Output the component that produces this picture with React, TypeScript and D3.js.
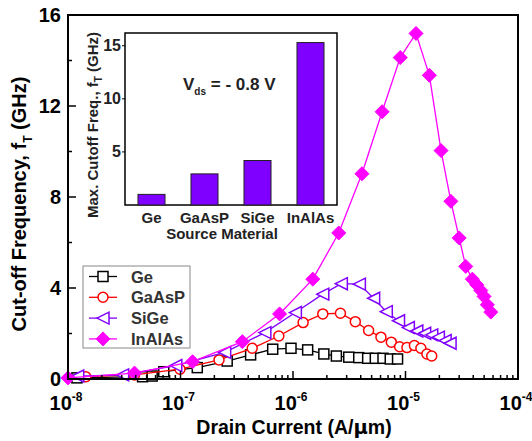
import React, { useEffect, useRef } from "react";
import * as d3 from "d3";

// main chart data: drain current (A/um) vs cut-off frequency (GHz)
const geI = [1.2e-8, 4.6e-8, 5.6e-8, 7.1e-8, 1.41e-7, 2.6e-7, 4.2e-7, 6.6e-7, 9.6e-7, 1.35e-6, 1.88e-6, 2.43e-6, 3.13e-6, 3.84e-6, 4.61e-6, 5.39e-6, 6.31e-6, 7.32e-6, 8.5e-6];
const geF = [0.05, 0.1, 0.13, 0.32, 0.5, 0.79, 1.06, 1.31, 1.35, 1.28, 1.1, 1.01, 0.96, 0.94, 0.91, 0.91, 0.91, 0.88, 0.88];

const gaasI = [1.44e-8, 3.9e-8, 9.9e-8, 2.2e-7, 4.34e-7, 7.48e-7, 1.23e-6, 1.84e-6, 2.64e-6, 3.58e-6, 4.7e-6, 6.05e-6, 7.48e-6, 8.87e-6, 1.03e-5, 1.2e-5, 1.37e-5, 1.55e-5, 1.71e-5];
const gaasF = [0.1, 0.18, 0.43, 0.84, 1.35, 1.89, 2.48, 2.86, 2.89, 2.52, 2.13, 1.84, 1.62, 1.42, 1.38, 1.47, 1.35, 1.1, 1.01];

const sigeI = [1.22e-8, 3.06e-8, 9.08e-8, 2.47e-7, 5.62e-7, 1.05e-6, 1.84e-6, 2.69e-6, 3.89e-6, 5.21e-6, 6.75e-6, 8.67e-6, 1.06e-5, 1.26e-5, 1.48e-5, 1.71e-5, 1.96e-5, 2.25e-5, 2.49e-5];
const sigeF = [0.13, 0.18, 0.59, 1.17, 2.04, 2.92, 3.73, 4.19, 4.17, 3.55, 2.96, 2.56, 2.26, 2.11, 2.01, 1.94, 1.84, 1.69, 1.57];

const inalasI = [1.0e-8, 3.9e-8, 1.28e-7, 3.55e-7, 7.6e-7, 1.5e-6, 2.55e-6, 4.1e-6, 6.2e-6, 8.98e-6, 1.24e-5, 1.63e-5, 2.07e-5, 2.53e-5, 3.0e-5, 3.43e-5, 3.93e-5, 4.3e-5, 4.67e-5, 4.99e-5, 5.34e-5, 5.73e-5];
const inalasF = [0.05, 0.26, 0.76, 1.64, 2.86, 4.39, 6.42, 9.02, 11.75, 14.13, 15.19, 13.35, 10.04, 7.81, 6.2, 4.95, 4.39, 4.14, 3.89, 3.63, 3.26, 2.94];

// inset bar data
const materials = ["Ge", "GaAsP", "SiGe", "InAlAs"];
const maxFt = [1.0, 2.93, 4.19, 15.3];

const yTicks = [0, 4, 8, 12, 16];
const insetTicks = [5, 10, 15];

const series = [
  { name: "Ge", xs: geI, ys: geF, color: "#000000", marker: "square" },
  { name: "GaAsP", xs: gaasI, ys: gaasF, color: "#ff0000", marker: "circle" },
  { name: "SiGe", xs: sigeI, ys: sigeF, color: "#7f00ff", marker: "triangle" },
  { name: "InAlAs", xs: inalasI, ys: inalasF, color: "#ff00ff", marker: "diamond" },
];

const W = 532;
const H = 441;
const FONT = "'Liberation Sans', Arial, sans-serif";

function drawMarker(g: any, type: string, cx: number, cy: number, color: string) {
  if (type === "square") {
    g.append("rect").attr("x", cx - 5).attr("y", cy - 5).attr("width", 10).attr("height", 10)
      .attr("fill", "#fff").attr("stroke", color).attr("stroke-width", 1.5);
  } else if (type === "circle") {
    g.append("circle").attr("cx", cx).attr("cy", cy).attr("r", 5)
      .attr("fill", "#fff").attr("stroke", color).attr("stroke-width", 1.5);
  } else if (type === "triangle") {
    g.append("path").attr("d", `M${cx - 6},${cy}L${cx + 6},${cy - 6}L${cx + 6},${cy + 6}Z`)
      .attr("fill", "#fff").attr("stroke", color).attr("stroke-width", 1.5);
  } else {
    g.append("path").attr("d", `M${cx},${cy - 7}L${cx + 7},${cy}L${cx},${cy + 7}L${cx - 7},${cy}Z`)
      .attr("fill", color).attr("stroke", color).attr("stroke-width", 1);
  }
}

const App = () => {
  const ref = useRef(null);

  useEffect(() => {
    if (!ref.current) return;
    const svg = d3.select(ref.current);
    svg.selectAll("*").remove();

    const x = d3.scaleLog().domain([1e-8, 1e-4]).range([68, 518]);
    const y = d3.scaleLinear().domain([0, 16]).range([379, 15]);
    const [x0, x1] = x.range();
    const [y0, y1] = y.range();

    // series lines + markers
    const plot = svg.append("g");
    series.forEach((s) => {
      const pts: [number, number][] = s.xs.map((v, i) => [x(v), y(s.ys[i])]);
      plot.append("path").attr("d", d3.line()(pts) as string)
        .attr("fill", "none").attr("stroke", s.color).attr("stroke-width", 1.3);
      pts.forEach((p) => drawMarker(plot, s.marker, p[0], p[1], s.color));
    });

    // frame
    svg.append("rect").attr("x", x0).attr("y", y1).attr("width", x1 - x0).attr("height", y0 - y1)
      .attr("fill", "none").attr("stroke", "#000").attr("stroke-width", 2);

    // x ticks (inward)
    const ax = svg.append("g");
    for (let e = -8; e <= -4; e++) {
      for (let m = 1; m <= 9; m++) {
        const v = m * Math.pow(10, e);
        if (v > 1e-4 * 1.0001) break;
        const px = x(v);
        const len = m === 1 ? 8 : 4;
        ax.append("line").attr("x1", px).attr("x2", px).attr("y1", y0).attr("y2", y0 - len)
          .attr("stroke", "#000").attr("stroke-width", 1.5);
      }
      const t = ax.append("text").attr("x", x(Math.pow(10, e)) - 2).attr("y", 410)
        .attr("text-anchor", "middle").attr("font-family", FONT).attr("font-weight", "bold")
        .attr("font-size", 20).text("10");
      t.append("tspan").attr("dy", -9).attr("font-size", 12).text(String(e));
    }

    // y ticks
    const ay = svg.append("g");
    d3.range(0, 17, 2).forEach((v) => {
      const major = v % 4 === 0;
      ay.append("line").attr("x1", x0).attr("x2", x0 + (major ? 8 : 4)).attr("y1", y(v)).attr("y2", y(v))
        .attr("stroke", "#000").attr("stroke-width", 1.5);
    });
    yTicks.forEach((v) => {
      ay.append("text").attr("x", 61).attr("y", y(v) + 7).attr("text-anchor", "end")
        .attr("font-family", FONT).attr("font-weight", "bold").attr("font-size", 20).text(String(v));
    });

    // axis titles
    const xt = svg.append("text").attr("x", 294).attr("y", 434).attr("text-anchor", "middle")
      .attr("font-family", FONT).attr("font-weight", "bold").attr("font-size", 19.5);
    xt.append("tspan").text("Drain Current (A/");
    xt.append("tspan").attr("font-family", "'DejaVu Sans', sans-serif").text("μ");
    xt.append("tspan").text("m)");

    const yt = svg.append("text").attr("transform", "translate(26,204) rotate(-90)").attr("text-anchor", "middle")
      .attr("font-family", FONT).attr("font-weight", "bold").attr("font-size", 20);
    yt.append("tspan").text("Cut-off Frequency, f");
    yt.append("tspan").attr("dy", 6).attr("font-size", 12).text("T");
    yt.append("tspan").attr("dy", -6).text(" (GHz)");

    // legend
    const lg = svg.append("g");
    lg.append("rect").attr("x", 83).attr("y", 266).attr("width", 107).attr("height", 82)
      .attr("fill", "#fff").attr("stroke", "#888").attr("stroke-width", 1);
    series.forEach((s, i) => {
      const ly = 276.5 + i * 20.8;
      lg.append("line").attr("x1", 89).attr("x2", 117).attr("y1", ly).attr("y2", ly)
        .attr("stroke", s.color).attr("stroke-width", 1.3);
      drawMarker(lg, s.marker, 103, ly, s.color);
      lg.append("text").attr("x", 131).attr("y", ly + 6).attr("font-family", FONT).attr("font-weight", "bold")
        .attr("font-size", 16.5).attr("fill", "#333").text(s.name);
    });

    // inset bar chart
    const xi = d3.scaleBand().domain(materials).range([125, 337]).paddingInner(0.49).paddingOuter(0.245);
    const yi = d3.scaleLinear().domain([0, 16.2]).range([205, 33]);
    const ins = svg.append("g");
    ins.append("rect").attr("x", 125).attr("y", 33).attr("width", 212).attr("height", 172)
      .attr("fill", "#fff").attr("stroke", "#000").attr("stroke-width", 1.5);
    materials.forEach((m, i) => {
      ins.append("rect").attr("x", xi(m) as number).attr("y", yi(maxFt[i]))
        .attr("width", xi.bandwidth()).attr("height", yi(0) - yi(maxFt[i]))
        .attr("fill", "#7f00ff").attr("stroke", "#222").attr("stroke-width", 1);
      ins.append("text").attr("x", (xi(m) as number) + xi.bandwidth() / 2).attr("y", 223)
        .attr("text-anchor", "middle").attr("font-family", FONT).attr("font-weight", "bold")
        .attr("font-size", 15).attr("fill", "#222").text(m);
    });
    insetTicks.forEach((v) => {
      ins.append("line").attr("x1", 122).attr("x2", 125).attr("y1", yi(v)).attr("y2", yi(v))
        .attr("stroke", "#000").attr("stroke-width", 1);
      ins.append("text").attr("x", 121).attr("y", yi(v) + 5.5).attr("text-anchor", "end")
        .attr("font-family", FONT).attr("font-weight", "bold").attr("font-size", 16).attr("fill", "#222").text(String(v));
    });
    ins.append("text").attr("x", 222).attr("y", 239).attr("text-anchor", "middle")
      .attr("font-family", FONT).attr("font-weight", "bold").attr("font-size", 15).attr("fill", "#222")
      .text("Source Material");
    const iy = ins.append("text").attr("transform", "translate(98,125) rotate(-90)").attr("text-anchor", "middle")
      .attr("font-family", FONT).attr("font-weight", "bold").attr("font-size", 15).attr("fill", "#222");
    iy.append("tspan").text("Max. Cutoff Freq., f");
    iy.append("tspan").attr("dy", 4).attr("font-size", 10).text("T");
    iy.append("tspan").attr("dy", -4).text(" (GHz)");
    const vt = ins.append("text").attr("x", 183).attr("y", 90).attr("font-family", FONT)
      .attr("font-weight", "bold").attr("font-size", 17).attr("fill", "#222");
    vt.append("tspan").text("V");
    vt.append("tspan").attr("dy", 5).attr("font-size", 10).text("ds");
    vt.append("tspan").attr("dy", -5).text(" = - 0.8 V");
  }, []);

  return (
    <svg ref={ref} width={W} height={H} style={{ position: "absolute", left: 0, top: 0, background: "#fff" }} />
  );
};

export default App;
